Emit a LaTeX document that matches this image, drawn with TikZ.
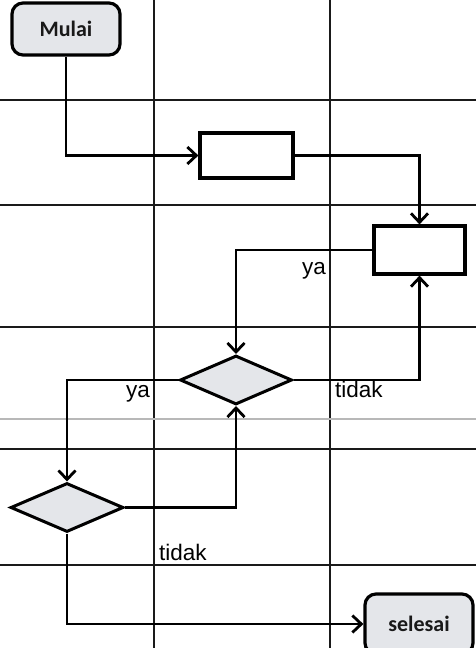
\documentclass[tikz,border=0pt]{standalone}
\usepackage{fontspec}
\setmainfont{Liberation Sans}
\newfontfamily\calib{Carlito}
\usetikzlibrary{shapes.geometric,arrows.meta}
\definecolor{termfill}{HTML}{E4E6EA}
\definecolor{gridc}{HTML}{1A1A1A}
\tikzset{
  gridline/.style={draw=gridc,line width=2.2pt},
  faintline/.style={draw=black!28,line width=1.2pt},
  term/.style={draw=black,line width=3.2pt,rounded corners=11pt,fill=termfill,inner sep=0pt,font=\calib\bfseries\fontsize{22}{26}\selectfont,text=black!90},
  proc/.style={draw=black,line width=3.2pt,fill=white,inner sep=0pt},
  decide/.style={draw=black,diamond,line width=3pt,fill=termfill,inner sep=0pt,aspect=2.3},
  conn/.style={draw=black,line width=2.8pt,-{Straight Barb[length=9pt,width=17pt,line width=2.8pt]}},
  lbl/.style={inner sep=0pt,font=\fontsize{22.5}{26}\selectfont,text=black}
}
\begin{document}
\begin{tikzpicture}[x=1pt,y=-1pt]
\useasboundingbox (0,0) rectangle (476,648);
\clip (0,0) rectangle (476,648);
\fill[white] (0,0) rectangle (476,648);
% grid
\draw[gridline] (154,0) -- (154,648);
\draw[gridline] (330,0) -- (330,648);
\draw[gridline] (0,100) -- (476,100);
\draw[gridline] (0,205) -- (476,205);
\draw[gridline] (0,327) -- (476,327);
\draw[faintline] (0,419) -- (476,419);
\draw[gridline] (0,449) -- (476,449);
\draw[gridline] (0,565) -- (476,565);
% nodes
\node[term,minimum width=108pt,minimum height=52pt] (mulai) at (66,29) {Mulai};
\node[proc,minimum width=93pt,minimum height=45pt] (box1) at (246.5,155.5) {};
\node[proc,minimum width=91pt,minimum height=48pt] (box2) at (419.5,250) {};
\node[decide,minimum width=112pt,minimum height=49pt] (d1) at (236,380) {};
\node[decide,minimum width=113pt,minimum height=49pt] (d2) at (67,507.5) {};
\node[term,minimum width=108pt,minimum height=60pt] (selesai) at (419,624) {selesai};
% connectors
\draw[conn] (mulai.south) |- (box1.west);
\draw[conn] (box1.east) -| (box2.north);
\draw[conn] (box2.west) -| (d1.north);
\draw[conn] (d1.east) -| (box2.south);
\draw[conn] (d1.west) -| (d2.north);
\draw[conn] (d2.east) -| (d1.south);
\draw[conn] (d2.south) |- (selesai.west);
% labels
\node[lbl,anchor=base east] (ya1) at (326,274) {ya};
\node[lbl,anchor=base west] (tidak1) at (335,397) {tidak};
\node[lbl,anchor=base east] (ya2) at (150,397) {ya};
\node[lbl,anchor=base west] (tidak2) at (159,560) {tidak};
\end{tikzpicture}
\end{document}
